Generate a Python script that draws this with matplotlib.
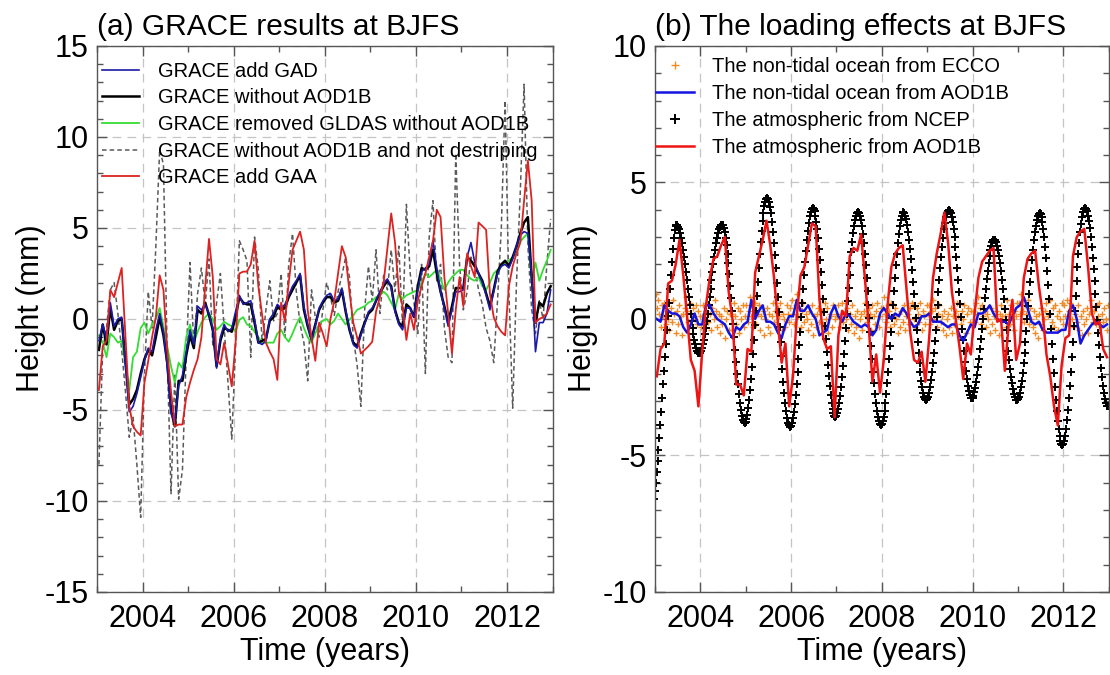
import matplotlib
matplotlib.use('Agg')
import matplotlib.pyplot as plt
import numpy as np
from matplotlib.ticker import MultipleLocator

plt.rcParams['font.family'] = ['Liberation Sans', 'DejaVu Sans']
plt.rcParams['axes.unicode_minus'] = False

# ---------------- panel (a): GRACE monthly series, 2003-2012 (12 values / year) ----------------
grace_gad = [
    -1.2, -0.3, -1.1, 0.9, -0.4, 0.0, 0.1, -2.6, -5.1, -4.8, -4.1, -3.2,
    -2.3, -1.6, -1.8, -0.6, 0.3, -0.7, -2.6, -5.2, -5.7, -3.7, -3.1, -1.8,
    -0.6, -1.4, 0.7, 0.5, 0.8, 0.3, -0.5, -2.7, -1.0, -0.3, -0.7, -0.5,
    0.4, 1.3, 0.8, 0.9, 1.0, 0.0, -1.3, -1.4, -1.2, 0.0, 0.3, 0.8,
    0.6, 0.8, 1.3, 1.8, 2.1, 2.5, 0.7, -0.3, -1.2, -0.4, 0.6, 1.0,
    1.3, 1.4, 1.0, 1.1, 1.7, 0.5, -0.5, -1.4, -1.6, -0.9, -0.3, 0.4,
    0.6, 1.0, 1.5, 1.9, 2.2, 1.7, 0.4, -0.3, -0.6, 0.6, 0.6, 0.1,
    1.6, 2.6, 2.8, 3.0, 4.3, 2.8, 1.5, 0.6, -0.4, 0.5, 1.5, 1.5,
    1.6, 3.4, 4.2, 3.1, 2.5, 2.0, 1.3, 0.5, 1.5, 2.5, 2.9, 3.0,
    2.8, 3.3, 4.0, 4.6, 4.8, 4.7, 2.4, -1.8, -0.2, -0.2, 0.3, 1.6,
]
grace_noaod = [
    -1.7, -0.3, -1.4, 0.6, -0.6, -0.1, 0.0, -2.3, -4.7, -4.4, -3.9, -3.0,
    -2.2, -1.7, -2.0, -1.0, 0.1, -0.9, -2.4, -5.0, -5.9, -3.4, -3.4, -2.0,
    -0.9, -1.6, 0.5, 0.3, 0.9, 0.2, -0.6, -2.6, -1.2, -0.5, -0.6, -0.7,
    0.1, 1.2, 0.9, 0.8, 0.8, -0.2, -1.3, -1.2, -1.1, -0.1, 0.1, 0.7,
    0.5, 0.6, 1.2, 1.6, 2.0, 2.4, 0.5, -0.4, -1.1, -0.3, 0.5, 0.9,
    1.2, 1.2, 0.9, 1.0, 1.6, 0.4, -0.6, -1.3, -1.5, -0.8, -0.2, 0.3,
    0.5, 1.0, 1.4, 1.8, 2.1, 1.8, 0.5, -0.2, -0.4, 0.8, 0.6, 0.1,
    1.8, 2.8, 2.7, 2.9, 3.8, 2.5, 1.5, 0.7, -0.2, 0.7, 1.7, 1.7,
    1.7, 3.4, 3.2, 2.9, 2.5, 2.1, 1.4, 0.7, 1.6, 2.6, 3.0, 3.2,
    2.9, 3.4, 4.0, 4.7, 5.3, 5.6, 2.3, -0.2, 0.9, 0.7, 1.4, 1.8,
]
grace_gldas = [
    -0.9, -1.3, -2.1, -0.8, -1.0, -1.3, -1.2, -2.5, -3.9, -2.1, -1.8, -0.5,
    -0.2, -0.8, -0.3, 0.0, 0.6, -0.4, -1.5, -2.6, -3.5, -2.4, -2.7, -1.0,
    -0.3, -1.3, -0.7, -0.2, 0.1, 0.3, 0.0, -0.6, -0.4, -0.15, -0.3, -0.4,
    -0.7, -0.05, 0.1, -0.3, -0.4, -0.7, -1.0, -1.3, -1.3, -1.3, -1.3, -0.8,
    -0.6, -1.0, -1.25, -0.8, -0.3, 0.1, -0.5, -1.0, -1.3, -0.8, -0.3, -0.1,
    0.0, -0.3, -0.1, 0.3, 0.0, -0.3, -0.05, 0.2, 0.5, 0.6, 0.7, 0.9,
    1.0, 1.2, 1.3, 1.5, 1.3, 0.9, 0.5, 1.4, 1.1, 1.3, 1.4, 1.5,
    1.6, 2.0, 2.5, 2.3, 2.5, 2.7, 2.2, 1.6, 2.0, 2.3, 2.5, 2.7,
    2.7, 2.4, 2.2, 2.1, 2.3, 1.8, 1.6, 2.0, 2.5, 2.7, 2.9, 3.1,
    3.2, 3.4, 3.6, 4.25, 4.5, 4.7, 2.1, 3.1, 2.1, 2.7, 3.2, 3.8,
]
grace_nodestripe = [
    -8.0, -1.7, -0.5, 1.6, 2.0, 0.3, -1.7, -4.0, -6.5, -5.4, -8.0, -10.9,
    -3.0, 1.5, -0.5, 4.0, 9.3, 8.5, -2.0, -9.6, -3.0, -9.9, -8.3, -2.0,
    3.1, -1.5, 1.4, 2.8, 0.8, 3.3, -1.5, 0.9, 2.5, -0.5, -3.5, -6.6,
    -1.5, 4.3, 3.8, 3.2, -2.1, 4.5, 2.7, -1.3, 0.5, 2.1, -0.1, 0.3,
    2.5, -1.0, 3.0, 4.7, 1.5, -0.3, -1.3, -3.4, 1.6, 0.1, -1.0, 0.5,
    2.0, 1.2, 0.2, 1.5, 2.4, 3.4, 2.3, -1.0, -2.5, -4.8, 0.5, 2.9,
    1.0, 3.8, 0.3, 2.4, 1.6, 3.8, 1.5, 4.0, -0.5, 6.3, 2.5, 0.9,
    -0.8, 3.0, -3.0, 4.5, 6.5, 2.0, 3.0, -0.5, -2.1, -2.4, 9.1, 3.0,
    0.5, 1.5, 3.4, 2.8, 1.6, 0.8, -0.5, -1.2, -2.4, 1.0, 5.0, 12.0,
    1.5, -4.9, 2.0, 7.0, 12.9, 4.0, 0.5, -0.8, 1.0, 0.0, 3.0, 5.5,
]
grace_gaa = [
    -3.9, -1.5, -1.2, 1.6, 1.2, 2.0, 2.8, -1.0, -4.8, -5.9, -6.2, -6.4,
    -3.5, -2.3, -1.0, 0.1, 2.4, 1.6, -1.7, -4.0, -5.9, -5.8, -5.8, -4.3,
    -3.5, -2.8, -2.2, -1.0, 1.8, 4.4, 2.3, -2.2, -2.5, -1.3, -2.5, -3.7,
    -1.3, 2.5, 2.6, 2.6, 3.0, 4.3, 1.8, 0.2, -1.3, -1.8, -2.2, -3.35,
    0.9, -0.1, 2.0, 3.8, 4.3, 4.8, 3.8, 0.5, -1.0, -2.3, -0.2, -0.8,
    -1.5, 0.0, 1.0, 2.5, 4.0, 3.4, 1.5, -0.2, -1.0, -1.9, -1.7, -1.5,
    -1.25, 0.4, 1.2, 2.0, 3.9, 5.8, 4.2, 1.5, 0.7, -1.15, 0.3, -0.6,
    1.0, 1.8, 2.5, 3.4, 4.3, 6.0, 5.6, 2.3, 0.3, -1.9, 0.5, 2.3,
    0.7, 3.6, 2.9, 2.3, 5.3, 5.1, 4.9, 1.4, 0.1, -0.4, -0.7, -0.9,
    1.8, 2.9, 3.6, 4.2, 6.5, 8.7, 6.5, -0.2, 0.0, 0.1, 0.3, 0.8,
]

# ---------------- panel (b): loading effects ----------------
ocean_aod1b = [
    0.0, -0.1, 0.5, 0.3, 0.2, 0.2, 0.1, -0.3, -0.5, -0.2, 0.2, -0.2,
    -0.2, 0.5, 0.5, 0.2, 0.0, -0.1, -0.2, -0.5, -0.7, -0.3, -0.4, -0.2,
    -0.1, 0.7, 0.0, 0.3, 0.5, -0.1, -0.1, -0.2, -0.5, -0.7, -0.2, 0.1,
    0.1, 0.7, 0.3, 0.3, 0.5, 0.2, 0.0, -0.6, -0.5, -0.4, 0.2, 0.5,
    0.1, -0.1, 0.2, 0.1, -0.1, -0.2, -0.3, -0.2, -0.3, -0.6, -0.4, 0.2,
    0.4, 0.2, 0.0, 0.2, 0.1, 0.4, 0.2, -0.1, -0.3, -0.2, 0.1, 0.1,
    0.2, -0.1, -0.1, -0.1, -0.2, -0.3, -0.2, -0.2, -0.6, -0.8, -0.5, -0.2,
    -0.3, 0.2, 0.2, 0.3, 0.5, 0.2, 0.0, -0.1, -0.1, -0.2, 0.1, 0.4,
    0.5, 0.8, 0.4, -0.1, -0.2, -0.1, -0.4, -0.5, -0.5, -0.5, -0.5, -0.4,
    -0.4, 0.3, 0.5, 0.0, -0.9, -0.6, -0.4, -0.2, -0.1, -0.2, -0.3, -0.2,
]
atm_aod1b = [
    -2.1, -1.1, -0.9, 1.3, 1.4, 2.0, 2.9, 1.6, 0.1, -1.5, -1.9, -3.2,
    -1.2, 0.5, 1.5, 2.2, 2.3, 2.7, 3.0, 1.0, 0.0, -2.4, -2.4, -2.8,
    -1.1, -1.2, 1.7, 2.3, 2.9, 3.6, 2.7, 1.5, -0.1, -1.6, -0.9, -3.2,
    -2.1, 0.1, 1.6, 1.9, 2.7, 3.5, 3.4, 0.7, -0.7, -1.1, -1.0, -3.6,
    -0.6, 0.3, 0.1, 2.3, 2.6, 2.5, 3.1, 1.5, -0.2, -2.3, -1.3, -2.7,
    -1.5, 0.5, 1.9, 2.4, 2.6, 2.7, 1.1, -0.5, -1.5, -1.6, -1.2, -2.3,
    -0.7, 1.5, 2.4, 3.1, 3.9, 2.8, 1.0, 0.0, -1.0, -2.2, -0.9, -1.3,
    0.2, 1.5, 2.1, 2.3, 2.5, 2.6, -0.1, 0.0, -1.9, -0.2, 0.7, -1.5,
    -0.9, 1.5, 2.2, 2.4, 2.5, 1.2, 0.2, -1.3, -2.1, -3.2, -3.9, -1.7,
    -0.7, -0.6, 2.3, 3.0, 3.2, 3.3, 1.9, 0.2, -0.2, -0.1, -1.1, -1.4,
]
# NCEP atmospheric loading, 48 samples per year starting 2002.975
ncep_atm = [
    -6.6, -6.3, -6.0, -5.6, -5.2, -4.8, -4.35, -3.9, -3.4, -2.9, -2.4, -1.9,
    -1.4, -0.9, -0.4, 0.1, 0.6, 1.1, 1.6, 2.1, 2.55, 2.95, 3.25, 3.42, 3.46,
    3.44, 3.38, 3.28, 3.14, 2.97, 2.77, 2.54, 2.28, 2.01, 1.71, 1.41, 1.11,
    0.80, 0.50, 0.20, -0.07, -0.33, -0.56, -0.76, -0.93, -1.07, -1.17, -1.23, -1.25,
    -1.23, -1.17, -1.07, -0.93, -0.76, -0.56, -0.33, -0.07, 0.20, 0.50, 0.80, 1.11,
    1.41, 1.71, 2.01, 2.28, 2.54, 2.77, 2.97, 3.14, 3.28, 3.38, 3.44, 3.46,
    3.43, 3.34, 3.18, 2.97, 2.71, 2.39, 2.04, 1.64, 1.21, 0.76, 0.30, -0.18,
    -0.66, -1.12, -1.57, -2.00, -2.40, -2.75, -3.07, -3.33, -3.54, -3.70, -3.79, -3.82,
    -3.79, -3.68, -3.51, -3.27, -2.97, -2.61, -2.21, -1.76, -1.27, -0.76, -0.23, 0.31,
    0.84, 1.37, 1.88, 2.37, 2.82, 3.22, 3.58, 3.88, 4.12, 4.29, 4.40, 4.43,
    4.39, 4.29, 4.11, 3.87, 3.57, 3.20, 2.79, 2.34, 1.85, 1.33, 0.79, 0.25,
    -0.30, -0.84, -1.36, -1.85, -2.30, -2.71, -3.08, -3.38, -3.62, -3.80, -3.90, -3.94,
    -3.91, -3.80, -3.64, -3.40, -3.11, -2.77, -2.37, -1.94, -1.47, -0.97, -0.46, 0.07,
    0.59, 1.10, 1.60, 2.07, 2.50, 2.90, 3.24, 3.53, 3.77, 3.93, 4.04, 4.07,
    4.04, 3.94, 3.78, 3.56, 3.28, 2.95, 2.57, 2.16, 1.71, 1.24, 0.74, 0.25,
    -0.25, -0.75, -1.22, -1.67, -2.08, -2.46, -2.79, -3.07, -3.29, -3.45, -3.55, -3.58,
    -3.55, -3.45, -3.30, -3.08, -2.81, -2.48, -2.12, -1.71, -1.27, -0.80, -0.32, 0.17,
    0.65, 1.13, 1.60, 2.04, 2.45, 2.81, 3.14, 3.41, 3.63, 3.78, 3.88, 3.91,
    3.88, 3.78, 3.61, 3.39, 3.11, 2.77, 2.39, 1.96, 1.51, 1.02, 0.52, 0.02,
    -0.49, -0.99, -1.48, -1.93, -2.36, -2.74, -3.08, -3.36, -3.58, -3.75, -3.85, -3.88,
    -3.85, -3.75, -3.58, -3.36, -3.08, -2.74, -2.36, -1.93, -1.48, -0.99, -0.49, 0.02,
    0.52, 1.02, 1.51, 1.96, 2.39, 2.77, 3.11, 3.39, 3.61, 3.78, 3.88, 3.91,
    3.88, 3.79, 3.65, 3.45, 3.20, 2.90, 2.56, 2.19, 1.79, 1.36, 0.92, 0.47,
    0.02, -0.42, -0.85, -1.25, -1.62, -1.96, -2.26, -2.51, -2.71, -2.85, -2.94, -2.97,
    -2.94, -2.85, -2.71, -2.50, -2.25, -1.95, -1.61, -1.23, -0.82, -0.39, 0.06, 0.52,
    0.97, 1.42, 1.85, 2.26, 2.64, 2.98, 3.28, 3.53, 3.74, 3.88, 3.97, 4.00,
    3.97, 3.88, 3.74, 3.54, 3.29, 2.99, 2.65, 2.27, 1.87, 1.44, 1.00, 0.55,
    0.09, -0.35, -0.78, -1.18, -1.56, -1.90, -2.20, -2.45, -2.65, -2.79, -2.88, -2.91,
    -2.89, -2.81, -2.69, -2.52, -2.31, -2.06, -1.77, -1.46, -1.11, -0.75, -0.38, 0.00,
    0.38, 0.75, 1.11, 1.46, 1.77, 2.06, 2.31, 2.52, 2.69, 2.81, 2.89, 2.91,
    2.89, 2.81, 2.69, 2.52, 2.30, 2.05, 1.76, 1.44, 1.10, 0.73, 0.35, -0.03,
    -0.41, -0.79, -1.16, -1.50, -1.82, -2.11, -2.36, -2.58, -2.75, -2.87, -2.95, -2.97,
    -2.94, -2.85, -2.71, -2.51, -2.26, -1.97, -1.63, -1.26, -0.86, -0.43, 0.01, 0.46,
    0.90, 1.34, 1.77, 2.17, 2.54, 2.88, 3.17, 3.42, 3.62, 3.76, 3.85, 3.88,
    3.84, 3.74, 3.56, 3.31, 3.00, 2.64, 2.22, 1.76, 1.26, 0.73, 0.19, -0.37,
    -0.92, -1.46, -1.99, -2.49, -2.95, -3.37, -3.73, -4.04, -4.29, -4.47, -4.57, -4.61,
    -4.57, -4.46, -4.28, -4.03, -3.71, -3.34, -2.91, -2.44, -1.93, -1.39, -0.84, -0.27,
    0.30, 0.85, 1.39, 1.90, 2.37, 2.80, 3.17, 3.49, 3.74, 3.92, 4.03, 4.07,
    4.04, 3.95, 3.79, 3.58, 3.32, 3.01, 2.65, 2.25, 1.83, 1.38, 0.91, 0.44,
    -0.04, -0.51, -0.96, -1.38, -1.78, -2.14, -2.46, -2.71, -2.92, -3.08, -3.17, -3.20,
]
# ECCO non-tidal ocean, 36 samples per year
ecco_ocean = [
    0.9, 0.4, 0.7, 0.2, -0.3, 0.5, 0.1, 0.6, -0.2, 0.3, 0.0, -0.4, 0.4, -0.1, 0.7, 0.2, -0.5, 0.3,
    -0.2, 0.5, 0.1, -0.6, 0.2, 0.4, 0.8, 0.3, -0.1, 0.6, 0.2, -0.3, 0.4, 0.0, 0.5, -0.2, 0.3, 0.1,
    -0.3, 0.1, 0.5, -0.2, 0.3, 0.6, -0.1, 0.2, -0.4, 0.4, 0.0, 0.7, 0.3, -0.3, 0.2, -0.5, 0.1, -0.2,
    0.4, -0.7, 0.0, 0.3, -0.4, 0.2, 0.2, -0.4, 0.6, 0.1, -0.2, 0.4, -0.5, 0.3, 0.0, 0.5, -0.3, 0.1,
    0.5, -0.1, 0.3, 0.8, 0.1, -0.3, 0.4, 0.6, -0.2, 0.2, 0.5, -0.4, 0.1, 0.3, -0.6, 0.0, 0.4, -0.3,
    0.2, -0.5, 0.1, 0.6, -0.1, 0.3, -0.2, 0.4, 0.1, 0.6, -0.4, 0.2, 0.0, -0.3, 0.5, 0.2, -0.1, 0.4,
    0.7, 0.2, -0.2, 0.5, 0.9, 0.1, 0.4, -0.3, 0.3, 0.6, -0.1, 0.2, 0.0, -0.4, 0.3, -0.2, 0.5, -0.6,
    0.1, -0.3, 0.2, 0.4, -0.1, 0.3, 0.3, -0.2, 0.6, 0.0, 0.4, -0.5, 0.2, 0.1, -0.3, 0.5, 0.0, 0.2,
    0.1, 0.5, -0.3, 0.2, 0.6, -0.1, 0.3, 0.0, 0.4, -0.4, 0.2, -0.2, 0.5, -0.5, 0.1, -0.3, 0.3, -0.7,
    0.0, 0.2, -0.4, 0.3, 0.6, 0.1, -0.1, 0.4, 0.2, -0.4, 0.5, 0.1, -0.2, 0.3, 0.6, -0.3, 0.1, 0.4,
    0.4, 0.8, 0.2, -0.1, 0.5, 0.3, -0.3, 0.6, 0.1, -0.2, 0.4, 0.0, -0.5, 0.2, -0.3, 0.3, -0.1, 0.5,
    -0.4, 0.1, 0.2, -0.2, 0.4, 0.6, 0.5, 0.0, -0.3, 0.4, 0.2, -0.1, 0.6, -0.4, 0.3, 0.1, -0.2, 0.5,
    0.2, 0.5, -0.2, 0.3, 0.7, 0.0, 0.4, -0.3, 0.2, 0.5, -0.1, 0.1, -0.4, 0.3, -0.6, 0.0, 0.2, -0.3,
    0.4, -0.5, 0.1, -0.2, 0.3, 0.6, 0.1, 0.6, -0.2, 0.3, 0.0, 0.5, -0.5, 0.2, 0.4, -0.1, 0.3, -0.3,
    0.3, -0.1, 0.6, 0.2, 0.8, 0.4, -0.2, 0.5, 0.1, 0.3, -0.3, 0.2, 0.0, -0.5, 0.4, -0.2, 0.1, -0.4,
    0.3, 0.0, -0.6, 0.2, 0.5, 0.1, 0.4, 0.1, -0.3, 0.7, 0.2, -0.2, 0.5, 0.0, -0.4, 0.3, 0.1, 0.6,
    0.6, 0.2, 0.9, 0.3, -0.1, 0.5, 0.2, 0.7, -0.2, 0.4, 0.0, -0.3, 0.3, -0.5, 0.1, -0.7, 0.2, -0.2,
    0.4, -0.4, 0.0, 0.3, 0.6, 0.1, 0.2, 0.7, -0.1, 0.4, -0.3, 0.5, 0.1, -0.4, 0.3, 0.0, 0.6, -0.2,
    0.5, 0.1, 0.7, -0.2, 0.3, 0.6, 0.0, 0.4, -0.3, 0.2, -0.1, 0.5, -0.4, 0.1, -0.6, 0.3, -0.2, 0.0,
    0.4, -0.5, 0.2, 0.7, 0.3, -0.1, 0.3, -0.2, 0.5, 0.1, 0.6, -0.3, 0.2, -0.1, 0.4, 0.0, -0.4, 0.5,
]

t_month = 2003 + (np.arange(len(grace_noaod)) + 0.5) / 12.0
t_ncep = 2002.975 + np.arange(len(ncep_atm)) / 48.0
t_ecco = 2003 + (np.arange(len(ecco_ocean)) + 0.5) / 36.0

FS = 22


def style_axes(ax, ylim, title, ylab_x):
    ax.set_xlim(2003, 2013)
    ax.set_ylim(*ylim)
    ax.xaxis.set_major_locator(MultipleLocator(2))
    ax.xaxis.set_minor_locator(MultipleLocator(1))
    ax.yaxis.set_major_locator(MultipleLocator(5))
    ax.yaxis.set_minor_locator(MultipleLocator(1))
    ax.tick_params(which='both', direction='in', top=True, right=True,
                   color='#555555', labelsize=FS)
    ax.tick_params(which='major', length=7, width=1)
    ax.tick_params(which='minor', length=4, width=1)
    ax.tick_params(axis='x', pad=9)
    ax.tick_params(axis='y', pad=6)
    ax.grid(True, which='major', ls=(0, (7, 5)), color='#c4c4c4', lw=0.9)
    for s in ax.spines.values():
        s.set_color('#555555')
        s.set_linewidth(1.0)
    ax.set_xlabel('Time (years)', fontsize=FS, labelpad=2)
    ax.set_ylabel('Height (mm)', fontsize=FS)
    ax.yaxis.set_label_coords(ylab_x, 0.52)
    ax.set_title(title, loc='left', fontsize=21.5, pad=8)


fig = plt.figure(figsize=(11.1, 6.75), dpi=100)
ax1 = fig.add_axes([0.0874, 0.123, 0.4104, 0.8089])
ax2 = fig.add_axes([0.590, 0.123, 0.409, 0.8089])

# panel (a)
l_nd, = ax1.plot(t_month, grace_nodestripe, color='#5a5a5a', lw=1.1, ls=(0, (3, 2)))
l_gl, = ax1.plot(t_month, grace_gldas, color='#33dd33', lw=1.3)
l_no, = ax1.plot(t_month, grace_noaod, color='black', lw=1.8)
l_gad, = ax1.plot(t_month, grace_gad, color='#1a1aa8', lw=1.2)
l_gaa, = ax1.plot(t_month, grace_gaa, color='#dd2222', lw=1.3)
style_axes(ax1, (-15, 15), '(a) GRACE results at BJFS', -0.112)
ax1.legend([l_gad, l_no, l_gl, l_nd, l_gaa],
           ['GRACE add GAD', 'GRACE without AOD1B', 'GRACE removed GLDAS without AOD1B',
            'GRACE without AOD1B and not destriping', 'GRACE add GAA'],
           loc='upper left', bbox_to_anchor=(0.007, 0.975), frameon=False,
           fontsize=14.5, handlelength=1.85, handletextpad=0.9, labelspacing=0.38,
           borderaxespad=0, borderpad=0.1)

# panel (b)
l_ec, = ax2.plot(t_ecco, ecco_ocean, ls='none', marker='+', ms=4.5, mew=1.0, color='#f28a26')
l_nc, = ax2.plot(t_ncep, ncep_atm, ls='none', marker='+', ms=5.5, mew=1.4, color='black')
l_oa, = ax2.plot(t_month, ocean_aod1b, color='#1414e0', lw=1.8)
l_aa, = ax2.plot(t_month, atm_aod1b, color='#ee1414', lw=1.8)
style_axes(ax2, (-10, 10), '(b) The loading effects at BJFS', -0.125)
ax2.legend([l_ec, l_oa, l_nc, l_aa],
           ['The non-tidal ocean from ECCO', 'The non-tidal ocean from AOD1B',
            'The atmospheric from NCEP', 'The atmospheric from AOD1B'],
           loc='upper left', bbox_to_anchor=(0.0, 0.982), frameon=False,
           fontsize=14.5, handlelength=1.9, handletextpad=0.9, labelspacing=0.4,
           borderaxespad=0, borderpad=0.05, numpoints=1, markerscale=1.3)

fig.savefig('out.png', dpi=100)
